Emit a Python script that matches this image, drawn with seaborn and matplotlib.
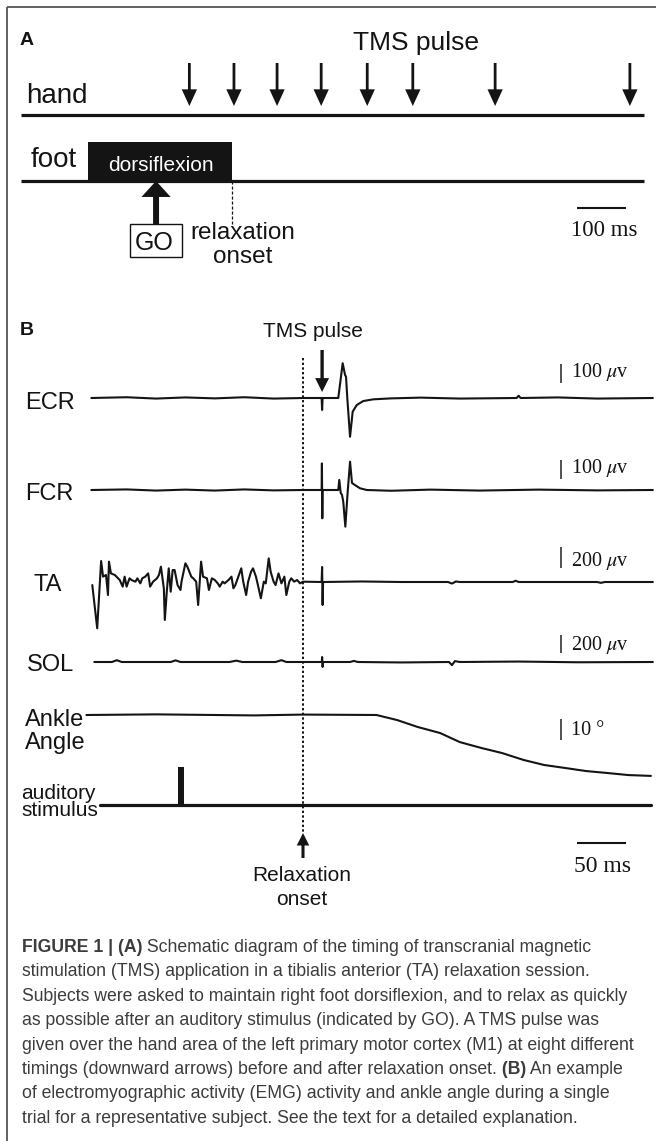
import matplotlib
matplotlib.use("Agg")
import matplotlib.pyplot as plt
from matplotlib.patches import ArrowStyle, Rectangle
import seaborn as sns

# ---------------- Panel A data (ms relative to relaxation onset) ----------------
tms_times_A_ms = [-87, 4, 92, 182, 276, 369, 537, 812]
timeline_A_ms = [-431, 841]
dorsiflexion_A_ms = [-293, 0]
go_cue_A_ms = -155
scale_A_ms = 100

# ---------------- Panel B data (ms relative to relaxation onset) ----------------
tms_pulse_B_ms = 19.5

ecr_time_ms = [-216, -180, -150, -120, -90, -60, -30, 0, 19, 19.5,
               20, 36, 40.5, 42.9, 43.9, 45.2, 48, 50.7, 54.8, 61.5,
               71.7, 90, 120, 160, 218, 220, 222, 260, 300, 357]
ecr_uv = [0, 4, -3, 3, -2, 4, -3, 0, 0, -63,
          0, 0, 183, 121, 112, 0, -204, -72, -37, -16,
          -7, -2, 2, -3, 0, 12, 0, 3, -3, 0]

fcr_time_ms = [-216, -180, -150, -120, -90, -60, -30, 0, 19, 19.3,
               19.7, 20, 36, 37, 38.5, 39.8, 41.1, 43.2, 45.6, 48,
               50, 53, 58.2, 65, 90, 130, 180, 240, 300, 357]
fcr_uv = [0, 3, -3, 2, -3, 3, -2, 0, 0, 140,
          -149, 0, 0, 53, -16, -26, -62, -193, -9, 149,
          37, 26, 9, 0, -4, 2, -3, 2, -2, 0]

ta_time_ms = [-215, -210, -206, -204, -201, -199, -198, -196, -192, -187,
              -184, -182, -180, -177, -175, -171, -169, -166, -164, -161,
              -158, -156, -153, -149, -147, -145, -142, -141, -139, -137,
              -135, -133, -131, -128, -125, -124, -120, -118, -114, -112,
              -109, -107, -104, -102, -98, -96, -93, -90, -87, -85,
              -82, -80, -76, -73, -71, -69, -66, -63, -61, -58,
              -56, -53, -51, -48, -46, -43, -40, -38, -35, -33,
              -30, -28, -25, -22, -19, -17, -14, -12, -9, -6,
              -3, 0, 19, 19.5, 20, 20.5, 60, 100, 148, 152,
              156, 160, 214, 217, 220, 300, 304, 308, 357]
ta_uv = [-29, -441, 200, 51, 67, -124, 194, 82, 67, 19,
         -44, 51, -44, 35, 19, 3, 35, -13, 35, 51,
         82, -44, 3, 35, 67, 146, -60, -362, -92, 130,
         -92, 114, 114, -29, -76, 3, 178, 146, 51, 35,
         3, -219, 194, 51, 35, -76, 35, 19, -13, -44,
         3, -13, 19, 51, -60, -29, 51, 130, 3, -124,
         3, 98, 130, 51, -29, -155, 3, -13, 225, 98,
         3, -29, 82, -13, 51, -124, 3, 35, 3, 19,
         -13, 3, 0, 143, -219, 0, 5, 0, 0, -15,
         5, 0, 0, 12, 0, 0, -8, 0, 0]

sol_time_ms = [-213, -195, -190, -185, -135, -130, -125, -75, -68, -62,
               -28, -22, -17, 0, 19.2, 19.5, 20, 20.5, 48, 52,
               56, 100, 149, 152, 155, 160, 220, 280, 357]
sol_uv = [0, 0, 20, 0, 0, 18, 0, 0, 15, 0,
          0, 20, 0, 0, 0, 55, -55, 0, 0, 12,
          0, -5, 0, -35, 10, 0, 5, -3, 0]

ankle_time_ms = [-221, -150, -50, 0, 75, 96, 117, 140, 160, 182,
                 203, 225, 246, 267, 289, 310, 332, 355]
ankle_deg = [0, 0.3, -0.2, 0.2, 0, -2.4, -5.7, -8.6, -12.9, -15.7,
             -18.1, -21.4, -23.8, -25.2, -26.7, -27.6, -28.6, -29.0]

auditory_line_ms = [-207, 355]
auditory_stim_ms = -124.5
auditory_stim_width_ms = 6

scale_B_ms = 50
scale_ecr_uv = 100
scale_fcr_uv = 100
scale_ta_uv = 200
scale_sol_uv = 200
scale_ankle_deg = 10

trace_labels = ["ECR", "FCR", "TA", "SOL"]

caption_lines = [
    [("FIGURE 1 | (A)", True), (" Schematic diagram of the timing of transcranial magnetic", False)],
    [("stimulation (TMS) application in a tibialis anterior (TA) relaxation session.", False)],
    [("Subjects were asked to maintain right foot dorsiflexion, and to relax as quickly", False)],
    [("as possible after an auditory stimulus (indicated by GO). A TMS pulse was", False)],
    [("given over the hand area of the left primary motor cortex (M1) at eight different", False)],
    [("timings (downward arrows) before and after relaxation onset.", False), (" (B)", True), (" An example", False)],
    [("of electromyographic activity (EMG) activity and ankle angle during a single", False)],
    [("trial for a representative subject. See the text for a detailed explanation.", False)],
]

# ---------------- styling ----------------
sns.set_theme(style="white")
plt.rcParams["font.family"] = ["Liberation Sans", "DejaVu Sans"]
plt.rcParams["mathtext.fontset"] = "stix"
SERIF = ["Liberation Serif", "DejaVu Serif"]
INK = "#141414"
CAP = "#3c3c3c"
W, H = 656, 1141

fig = plt.figure(figsize=(W / 100, H / 100), dpi=100)
fig.patch.set_facecolor("white")


def layer(xlim, ylim):
    a = fig.add_axes([0, 0, 1, 1])
    a.set_xlim(*xlim)
    a.set_ylim(*ylim)
    a.set_axis_off()
    a.patch.set_alpha(0)
    return a


def arrow(ax, x, y_from, y_to, hl, hw, tw):
    ax.annotate("", xy=(x, y_to), xytext=(x, y_from),
                arrowprops=dict(arrowstyle=ArrowStyle.Simple(head_length=hl, head_width=hw, tail_width=tw),
                                mutation_scale=1, fc=INK, ec=INK, lw=0, shrinkA=0, shrinkB=0))


# ---------------- Panel A ----------------
PPM_A, X0_A = 0.49, 232
axA = layer((-X0_A / PPM_A, (W - X0_A) / PPM_A), (H, 0))
ROW_HAND, ROW_FOOT = 115, 181
axA.hlines([ROW_HAND, ROW_FOOT], *timeline_A_ms, color=INK, lw=2.3)
for t in tms_times_A_ms:
    arrow(axA, t, 63, 106, 12, 11, 2.0)
axA.fill_between(dorsiflexion_A_ms, 142, ROW_FOOT, color=INK, lw=0)
arrow(axA, go_cue_A_ms, 224, ROW_FOOT, 11.5, 21, 4.3)
axA.vlines(dorsiflexion_A_ms[1], ROW_FOOT, 224, colors=INK, lw=0.9, linestyles=(0, (2.5, 1.5)))
axA.add_patch(Rectangle((go_cue_A_ms - 53, 224), 106, 33, fill=False, ec=INK, lw=1.0))
axA.hlines(208, 704, 704 + scale_A_ms, color=INK, lw=1.5)

# ---------------- Panel B ----------------
PPM_B, X0_B = 0.98, 303
xlimB = (-X0_B / PPM_B, (W - X0_B) / PPM_B)


def trace_layer(baseline_px, px_per_unit):
    return layer(xlimB, ((baseline_px - H) / px_per_unit, baseline_px / px_per_unit))


BAR_T = 263.3
traces = [
    (ecr_time_ms, ecr_uv, 398, 0.19, 80, scale_ecr_uv),
    (fcr_time_ms, fcr_uv, 490, 0.19, 60, scale_fcr_uv),
    (ta_time_ms, ta_uv, 582, 0.105, 133, scale_ta_uv),
    (sol_time_ms, sol_uv, 662, 0.09, 100, scale_sol_uv),
    (ankle_time_ms, ankle_deg, 715, 2.1, -12, scale_ankle_deg),
]
for tt, vv, base, s, bar_lo, bar_len in traces:
    a = trace_layer(base, s)
    sns.lineplot(x=tt, y=vv, ax=a, color=INK, linewidth=1.5, sort=False, estimator=None, legend=False)
    a.vlines(BAR_T, bar_lo, bar_lo + bar_len, colors="#333333", lw=1.2)
    a.set_axis_off()

aud = trace_layer(805, 38)
sns.lineplot(x=auditory_line_ms, y=[0, 0], ax=aud, color=INK, linewidth=2.3, legend=False)
aud.bar(auditory_stim_ms, 1, width=auditory_stim_width_ms, bottom=0, color=INK, lw=0)
aud.set_axis_off()

axBp = layer(xlimB, (H, 0))
axBp.vlines(0, 358, 833, colors=INK, lw=1.4, linestyles=(0, (1.2, 1.2)))
arrow(axBp, tms_pulse_B_ms, 350, 392, 10, 10, 2.4)
arrow(axBp, 0, 858, 833, 9, 9, 2.2)
axBp.hlines(843, 280, 280 + scale_B_ms, color=INK, lw=1.5)

# ---------------- text overlay (pixel coordinates) ----------------
pix = layer((0, W), (H, 0))
pix.plot([7, W], [7, 7], color="#555555", lw=1.3, solid_capstyle="butt")
pix.plot([7, 7], [7, H], color="#555555", lw=1.3, solid_capstyle="butt")

txt = dict(color=INK)
pix.text(20, 45, "A", fontsize=14, fontweight="bold", **txt)
pix.text(416, 50, "TMS pulse", ha="center", fontsize=19, **txt)
pix.text(26, 103, "hand", fontsize=20, **txt)
pix.text(31, 167, "foot", fontsize=20, **txt)
pix.text(161, 171, "dorsiflexion", ha="center", fontsize=15, color="white")
pix.text(154, 249.5, "GO", ha="center", fontsize=18, **txt)
pix.text(190, 239, "relaxation", fontsize=17.5, **txt)
pix.text(243, 263, "onset", ha="center", fontsize=17.5, **txt)
pix.text(604, 236, "100 ms", ha="center", fontsize=16.5, family=SERIF, **txt)

pix.text(20, 335, "B", fontsize=14, fontweight="bold", **txt)
pix.text(313, 337, "TMS pulse", ha="center", fontsize=15, **txt)
for lab, (x, y) in zip(trace_labels, [(25, 409), (25, 500), (33, 591), (27, 671)]):
    pix.text(x, y, lab, fontsize=17, **txt)
pix.text(25, 726, "Ankle", fontsize=17, **txt)
pix.text(25, 749, "Angle", fontsize=17, **txt)
pix.text(21, 799, "auditory", fontsize=15, **txt)
pix.text(21, 816, "stimulus", fontsize=15, **txt)
for lab, y in [(f"{scale_ecr_uv} $\\mu$v", 377), (f"{scale_fcr_uv} $\\mu$v", 473),
               (f"{scale_ta_uv} $\\mu$v", 566), (f"{scale_sol_uv} $\\mu$v", 650),
               (f"{scale_ankle_deg} °", 735)]:
    pix.text(571, y, lab, fontsize=14.5, family=SERIF, **txt)
pix.text(603, 872, f"{scale_B_ms} ms", ha="center", fontsize=17, family=SERIF, **txt)
pix.text(302, 881, "Relaxation", ha="center", fontsize=15, **txt)
pix.text(302, 905, "onset", ha="center", fontsize=15, **txt)

# ---------------- caption ----------------
renderer = fig.canvas.get_renderer()


def run_width(s, size, bold):
    t = pix.text(0, 0, s, fontsize=size, fontweight="bold" if bold else "normal")
    w = t.get_window_extent(renderer=renderer).width
    t.remove()
    return w


base = 10.0
widest = max(sum(run_width(s, base, b) for s, b in line) for line in caption_lines)
cap_size = base * 614 / widest
for i, line in enumerate(caption_lines):
    x = 22
    y = 952 + i * 24.4
    for s, b in line:
        t = pix.text(x, y, s, fontsize=cap_size, fontweight="bold" if b else "normal", color=CAP)
        x += t.get_window_extent(renderer=renderer).width

fig.savefig("out.png", dpi=100, facecolor="white")
